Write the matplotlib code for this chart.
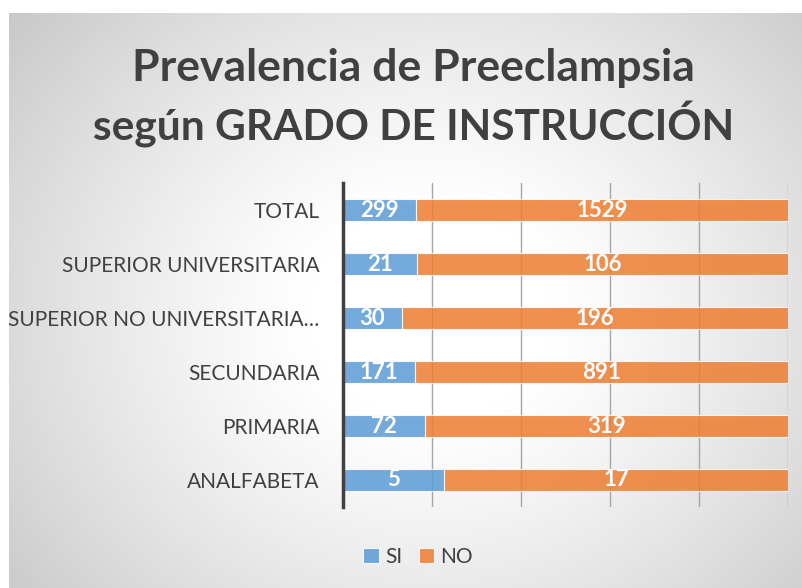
import matplotlib.pyplot as plt
import numpy as np

# data
categories = ['ANALFABETA', 'PRIMARIA', 'SECUNDARIA',
              'SUPERIOR NO UNIVERSITARIA…', 'SUPERIOR UNIVERSITARIA', 'TOTAL']
si = [5, 72, 171, 30, 21, 299]
no = [17, 319, 891, 196, 106, 1529]
series_names = ['SI', 'NO']

si = np.array(si, dtype=float)
no = np.array(no, dtype=float)
tot = si + no
si_pct = si / tot
no_pct = no / tot

blue = '#5b9bd5'
orange = '#ed7d31'
txt = '#404040'
font = 'Lato'

fig = plt.figure(figsize=(8.03, 5.88), dpi=100)
fig.patch.set_facecolor('white')

# radial gradient background of the chart area
bg = fig.add_axes([9 / 803, 0, 1 - 9 / 803, 1 - 13 / 588], zorder=-10)
yy, xx = np.mgrid[0:575, 0:794]
r = np.sqrt(((xx - 420) / 480) ** 2 + ((yy - 300) / 420) ** 2)
g = np.clip(1 - 0.25 * np.clip(r - 0.25, 0, None) ** 1.2, 0.78, 1)
bg.imshow(np.dstack([g, g, g]), aspect='auto', extent=[0, 1, 0, 1])
bg.axis('off')

ax = fig.add_axes([343 / 803, 1 - 507 / 588, (788 - 343) / 803, (507 - 183) / 588])
ax.patch.set_alpha(0)
y = np.arange(len(categories))

ax.barh(y, si_pct, height=0.41, color=blue, alpha=0.85, edgecolor='white',
        linewidth=0.8, label=series_names[0], zorder=3)
ax.barh(y, no_pct, left=si_pct, height=0.41, color=orange, alpha=0.85,
        edgecolor='white', linewidth=0.8, label=series_names[1], zorder=3)

for i in range(len(categories)):
    ax.text(si_pct[i] / 2, y[i], f'{int(si[i])}', ha='center', va='center',
            color='white', fontsize=16, fontweight='bold', family=font, zorder=4)
    ax.text(si_pct[i] + no_pct[i] / 2, y[i], f'{int(no[i])}', ha='center', va='center',
            color='white', fontsize=16, fontweight='bold', family=font, zorder=4)

ax.set_xlim(0, 1)
ax.set_ylim(-0.5, len(categories) - 0.5)
ax.set_xticks(np.linspace(0, 1, 6))
ax.set_xticklabels([])
ax.tick_params(axis='x', length=0)
ax.grid(axis='x', color='#a6a6a6', linewidth=1, zorder=0)
ax.set_yticks(y)
ax.set_yticklabels(categories, fontsize=15, color=txt, family=font)
ax.tick_params(axis='y', length=0, pad=17)
for s in ['top', 'right', 'bottom']:
    ax.spines[s].set_visible(False)
ax.spines['left'].set_color(txt)
ax.spines['left'].set_linewidth(2.5)
ax.spines['left'].set_zorder(5)

fig.text(0.515, 1 - 68 / 588, 'Prevalencia de Preeclampsia', ha='center', va='center',
         fontsize=32, fontweight='bold', color=txt, family=font)
fig.text(0.515, 1 - 125 / 588, 'según GRADO DE INSTRUCCIÓN', ha='center', va='center',
         fontsize=30.5, fontweight='bold', color=txt, family=font)

fig.legend(loc='center', bbox_to_anchor=(418 / 803, 1 - 557 / 588), ncol=2,
           frameon=False, handlelength=0.75, handleheight=0.75,
           handletextpad=0.3, columnspacing=0.8, prop={'family': font, 'size': 15},
           labelcolor=txt)

fig.savefig('out.png', dpi=100)
